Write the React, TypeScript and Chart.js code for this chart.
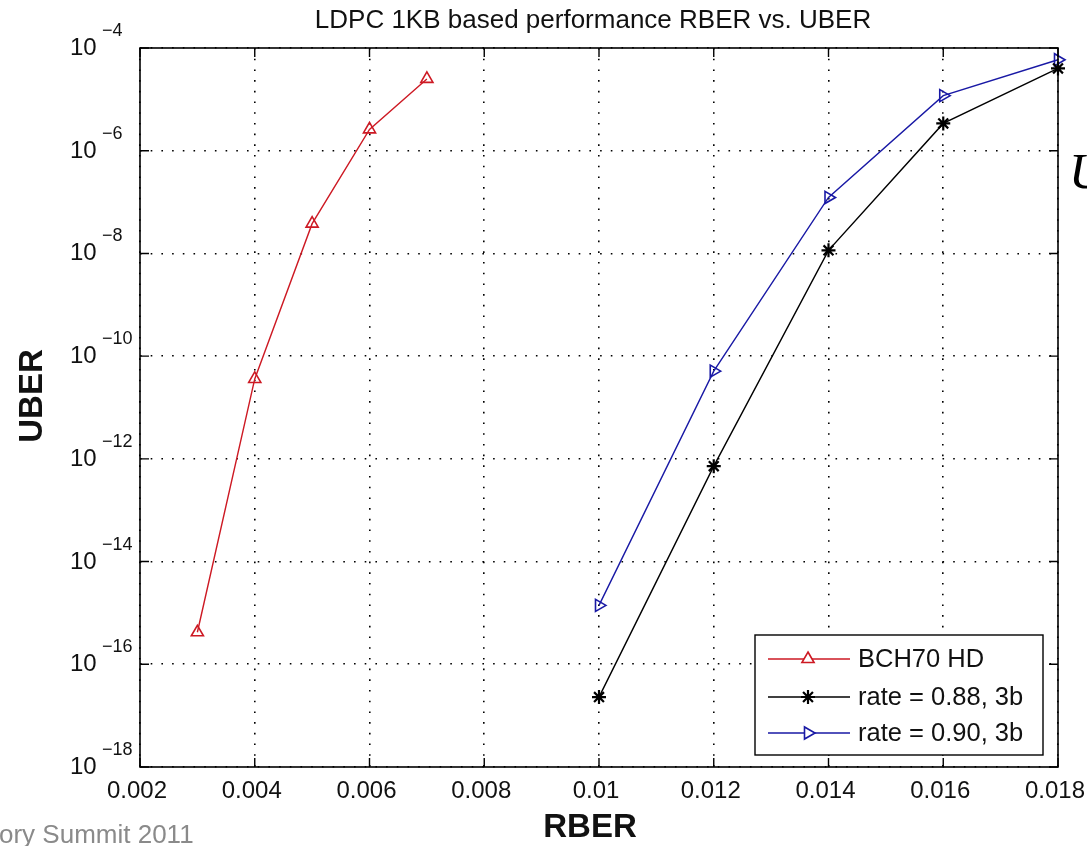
import React, { useEffect, useRef } from 'react';
import { Chart, registerables } from 'chart.js';
import { drawPoint } from 'chart.js/helpers';

Chart.register(...registerables);

const chartTitle = 'LDPC 1KB based performance RBER vs. UBER';
const xTitle = 'RBER';
const yTitle = 'UBER';

const xTicks = [0.002, 0.004, 0.006, 0.008, 0.01, 0.012, 0.014, 0.016, 0.018];
const xTickLabels = ['0.002', '0.004', '0.006', '0.008', '0.01', '0.012', '0.014', '0.016', '0.018'];
const yTickExps = [-4, -6, -8, -10, -12, -14, -16, -18];

const bchLabel = 'BCH70 HD';
const bchRber = [0.003, 0.004, 0.005, 0.006, 0.007];
const bchUber = [4.2e-16, 3.6e-11, 3.8e-8, 2.6e-6, 2.5e-5];

const rate88Label = 'rate = 0.88, 3b';
const rate88Rber = [0.01, 0.012, 0.014, 0.016, 0.018];
const rate88Uber = [2.3e-17, 7.2e-13, 1.15e-8, 3.4e-6, 4.0e-5];

const rate90Label = 'rate = 0.90, 3b';
const rate90Rber = [0.01, 0.012, 0.014, 0.016, 0.018];
const rate90Uber = [1.4e-15, 5.1e-11, 1.23e-7, 1.18e-5, 5.9e-5];

const footerText = 'ory Summit 2011';
const sideText = 'U';

const FONT = '"Liberation Sans", Arial, Helvetica, sans-serif';

const RED = 'rgb(205,25,35)';
const BLACK = 'rgb(0,0,0)';
const BLUE = 'rgb(25,25,165)';

const toPoints = (xs: number[], ys: number[]) => xs.map((v, i) => ({ x: v, y: ys[i] }));

const decorPlugin = {
  id: 'matlabDecor',
  afterDraw(chart: any) {
    const { ctx, chartArea: a, scales } = chart;
    const xs = scales.x;
    const ys = scales.y;
    ctx.save();

    // box
    ctx.strokeStyle = '#000';
    ctx.lineWidth = 1.6;
    ctx.setLineDash([]);
    ctx.strokeRect(a.left, a.top, a.right - a.left, a.bottom - a.top);

    // inward ticks
    const tl = 9;
    ctx.lineWidth = 1.4;
    ctx.beginPath();
    xs.ticks.forEach((t: any) => {
      const px = xs.getPixelForValue(t.value);
      ctx.moveTo(px, a.bottom);
      ctx.lineTo(px, a.bottom - tl);
      ctx.moveTo(px, a.top);
      ctx.lineTo(px, a.top + tl);
    });
    ys.ticks.forEach((t: any) => {
      const py = ys.getPixelForValue(t.value);
      ctx.moveTo(a.left, py);
      ctx.lineTo(a.left + tl, py);
      ctx.moveTo(a.right, py);
      ctx.lineTo(a.right - tl, py);
    });
    ctx.stroke();

    // x tick labels
    ctx.fillStyle = '#111';
    ctx.font = `24px ${FONT}`;
    ctx.textAlign = 'center';
    ctx.textBaseline = 'alphabetic';
    xs.ticks.forEach((t: any, i: number) => {
      const px = xs.getPixelForValue(t.value);
      ctx.fillText(xTickLabels[i] ?? String(t.value), px - 3, a.bottom + 31);
    });

    // y tick labels with superscript exponent
    ys.ticks.forEach((t: any, i: number) => {
      const py = ys.getPixelForValue(t.value);
      ctx.textAlign = 'left';
      ctx.font = `24px ${FONT}`;
      ctx.fillText('10', a.left - 70, py + 7);
      ctx.font = `18px ${FONT}`;
      ctx.fillText('\u2212' + String(Math.abs(yTickExps[i])), a.left - 38, py - 12);
    });

    // title
    ctx.textAlign = 'center';
    ctx.font = `26px ${FONT}`;
    ctx.fillStyle = '#111';
    ctx.fillText(chartTitle, (a.left + a.right) / 2 - 6, 28);

    // axis titles
    ctx.font = `bold 33px ${FONT}`;
    ctx.fillText(xTitle, (a.left + a.right) / 2 - 9, a.bottom + 70);
    ctx.save();
    ctx.translate(42, 396);
    ctx.rotate(-Math.PI / 2);
    ctx.textAlign = 'center';
    ctx.fillText(yTitle, 0, 0);
    ctx.restore();

    // legend
    const lw = 288;
    const lh = 120;
    const lx = a.right - 303;
    const ly = a.bottom - 132;
    ctx.fillStyle = '#fff';
    ctx.fillRect(lx, ly, lw, lh);
    ctx.strokeStyle = '#000';
    ctx.lineWidth = 1.4;
    ctx.strokeRect(lx, ly, lw, lh);
    const rows = [24, 62, 98];
    chart.data.datasets.forEach((ds: any, i: number) => {
      const ry = ly + rows[i];
      ctx.strokeStyle = ds.borderColor;
      ctx.lineWidth = 1.4;
      ctx.beginPath();
      ctx.moveTo(lx + 13, ry);
      ctx.lineTo(lx + 95, ry);
      ctx.stroke();
      ctx.fillStyle = '#fff';
      ctx.strokeStyle = ds.borderColor;
      ctx.lineWidth = ds.pointBorderWidth;
      drawPoint(ctx, {
        pointStyle: ds.pointStyle,
        rotation: ds.pointRotation || 0,
        radius: ds.pointRadius,
        borderWidth: ds.pointBorderWidth,
      } as any, lx + 53, ry);
      ctx.fillStyle = '#111';
      ctx.font = `25.5px ${FONT}`;
      ctx.textAlign = 'left';
      ctx.textBaseline = 'middle';
      ctx.fillText(ds.label, lx + 103, ry + 1);
      ctx.textBaseline = 'alphabetic';
    });

    // page artifacts
    ctx.fillStyle = '#8a8a8a';
    ctx.font = `26px ${FONT}`;
    ctx.textAlign = 'left';
    ctx.fillText(footerText, -1, 843);
    ctx.fillStyle = '#000';
    ctx.font = `italic 50px "Liberation Serif", "Times New Roman", serif`;
    ctx.fillText(sideText, 1069, 188);

    ctx.restore();
  },
};

export default function App() {
  const ref = useRef<HTMLCanvasElement>(null);

  useEffect(() => {
    if (!ref.current) return;
    const mk = (label: string, xsv: number[], ysv: number[], color: string, style: string, rot: number, r: number, bw: number) => ({
      label,
      data: toPoints(xsv, ysv),
      borderColor: color,
      backgroundColor: 'rgba(255,255,255,0)',
      borderWidth: 1.4,
      pointStyle: style,
      pointRotation: rot,
      pointRadius: r,
      pointBorderWidth: bw,
      pointBackgroundColor: 'rgba(255,255,255,0)',
      pointBorderColor: color,
      showLine: true,
      tension: 0,
      clip: false as any,
    });
    const chart = new Chart(ref.current, {
      type: 'scatter',
      data: {
        datasets: [
          mk(bchLabel, bchRber, bchUber, RED, 'triangle', 0, 7, 1.6),
          mk(rate88Label, rate88Rber, rate88Uber, BLACK, 'star', 0, 7, 2.2),
          mk(rate90Label, rate90Rber, rate90Uber, BLUE, 'triangle', 90, 7, 1.6),
        ] as any,
      },
      options: {
        animation: false,
        responsive: false,
        devicePixelRatio: 1,
        layout: { padding: { left: 140, right: 29, top: 48, bottom: 79 } },
        plugins: {
          legend: { display: false },
          title: { display: false },
          tooltip: { enabled: false },
        },
        scales: {
          x: {
            type: 'linear',
            min: 0.002,
            max: 0.018,
            afterBuildTicks: (s: any) => {
              s.ticks = xTicks.map((v) => ({ value: v }));
            },
            afterFit: (s: any) => {
              s.height = 0;
            },
            ticks: { display: false },
            grid: { color: '#000', lineWidth: 1.6, drawTicks: false },
            border: { display: false, dash: [1.6, 9.1] },
          },
          y: {
            type: 'logarithmic',
            min: 1e-18,
            max: 1e-4,
            afterBuildTicks: (s: any) => {
              s.ticks = yTickExps.map((e) => ({ value: Math.pow(10, e) }));
            },
            afterFit: (s: any) => {
              s.width = 0;
            },
            ticks: { display: false },
            grid: { color: '#000', lineWidth: 1.6, drawTicks: false },
            border: { display: false, dash: [1.6, 9.1] },
          },
        },
      } as any,
      plugins: [decorPlugin],
    });
    return () => chart.destroy();
  }, []);

  return (
    <div style={{ position: 'absolute', left: 0, top: 0, width: 1087, height: 846, background: '#fff' }}>
      <canvas ref={ref} width={1087} height={846} style={{ display: 'block' }} />
    </div>
  );
}
